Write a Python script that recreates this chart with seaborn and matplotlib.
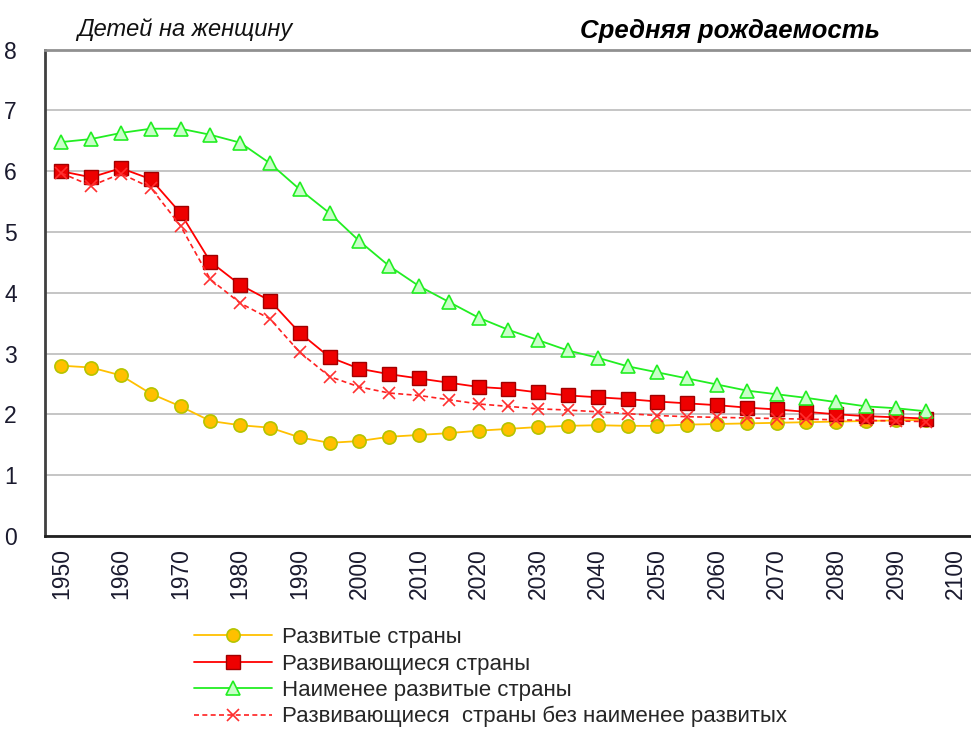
import matplotlib
matplotlib.use("Agg")
import matplotlib.pyplot as plt
import seaborn as sns

years = list(range(1950, 2100, 5))

# Развитые страны
developed = [2.80, 2.77, 2.64, 2.34, 2.13, 1.89, 1.82, 1.78, 1.62, 1.53,
             1.56, 1.63, 1.66, 1.69, 1.73, 1.76, 1.79, 1.81, 1.82, 1.81,
             1.81, 1.83, 1.84, 1.85, 1.86, 1.87, 1.88, 1.89, 1.90, 1.91]
# Развивающиеся страны
developing = [6.00, 5.90, 6.05, 5.87, 5.31, 4.51, 4.13, 3.87, 3.34, 2.94,
              2.75, 2.66, 2.59, 2.52, 2.45, 2.42, 2.36, 2.31, 2.28, 2.25,
              2.21, 2.18, 2.15, 2.11, 2.08, 2.04, 2.00, 1.97, 1.95, 1.93]
# Наименее развитые страны
least = [6.48, 6.53, 6.63, 6.70, 6.70, 6.60, 6.47, 6.13, 5.70, 5.31,
         4.85, 4.44, 4.11, 3.85, 3.59, 3.39, 3.22, 3.05, 2.93, 2.79,
         2.69, 2.59, 2.49, 2.39, 2.33, 2.27, 2.20, 2.13, 2.10, 2.05]
# Развивающиеся страны без наименее развитых
dev_no_least = [5.97, 5.76, 5.96, 5.73, 5.10, 4.22, 3.83, 3.57, 3.02, 2.62,
                2.45, 2.35, 2.31, 2.24, 2.17, 2.13, 2.09, 2.07, 2.04, 2.01,
                1.98, 1.96, 1.95, 1.94, 1.93, 1.92, 1.91, 1.90, 1.89, 1.88]

labels = ["Развитые страны", "Развивающиеся страны", "Наименее развитые страны",
          "Развивающиеся  страны без наименее развитых"]

sns.set_style("white")
plt.rcParams['font.family'] = ['Liberation Sans', 'DejaVu Sans']

fig = plt.figure(figsize=(9.71, 7.31), dpi=100)
ax = fig.add_axes([0.046, 0.267, 0.954, 0.665])

sns.lineplot(x=years, y=developed, ax=ax, color="#FFC000", lw=1.3, marker="o",
             markersize=9.5, markerfacecolor="#FFC000", markeredgecolor="#B5C400",
             markeredgewidth=1.2, label=labels[0])
sns.lineplot(x=years, y=developing, ax=ax, color="#FF0000", lw=1.3, marker="s",
             markersize=9.5, markerfacecolor="#EE0000", markeredgecolor="#A00000",
             markeredgewidth=1.0, label=labels[1])
sns.lineplot(x=years, y=least, ax=ax, color="#22EE22", lw=1.3, marker="^",
             markersize=10, markerfacecolor="#C8FFC8", markeredgecolor="#22EE22",
             markeredgewidth=1.2, label=labels[2])
sns.lineplot(x=years, y=dev_no_least, ax=ax, color="#FF2020", lw=1.2, linestyle=(0, (3, 2)),
             marker="x", markersize=8.5, markeredgecolor="#FF3030",
             markeredgewidth=1.2, label=labels[3])

ax.set_xlim(1947.2, 2102.6)
ax.set_ylim(0, 8)
ax.set_xticks(list(range(1950, 2101, 10)))
ax.set_yticks(range(0, 9))
ax.tick_params(axis="x", rotation=90, labelsize=16.5, length=0, pad=9, colors="#1a1a2e")
ax.tick_params(axis="y", labelsize=16.5, length=0, pad=20, colors="#1a1a2e")
ax.yaxis.grid(True, color="#C0C0C0", lw=1.3)
ax.set_axisbelow(True)
ax.set_xlabel("")
ax.set_ylabel("")

ax.spines["left"].set_color("#404040")
ax.spines["left"].set_linewidth(2)
ax.spines["bottom"].set_color("#202020")
ax.spines["bottom"].set_linewidth(2)
ax.spines["top"].set_color("#909090")
ax.spines["top"].set_linewidth(2)
ax.spines["right"].set_visible(False)

fig.text(0.080, 0.960, "Детей на женщину", fontsize=17, style="italic",
         ha="left", va="center", color="#111111")
fig.text(0.597, 0.958, "Средняя рождаемость", fontsize=18.5, style="italic",
         weight="bold", ha="left", va="center", color="#000000")

ax.legend(loc="upper left", bbox_to_anchor=(0.200, 0.142), bbox_transform=fig.transFigure,
          frameon=False, fontsize=16, handlelength=3.5, handletextpad=0.45,
          labelspacing=0.24, borderpad=0, borderaxespad=0)

fig.savefig("out.png", dpi=100)
